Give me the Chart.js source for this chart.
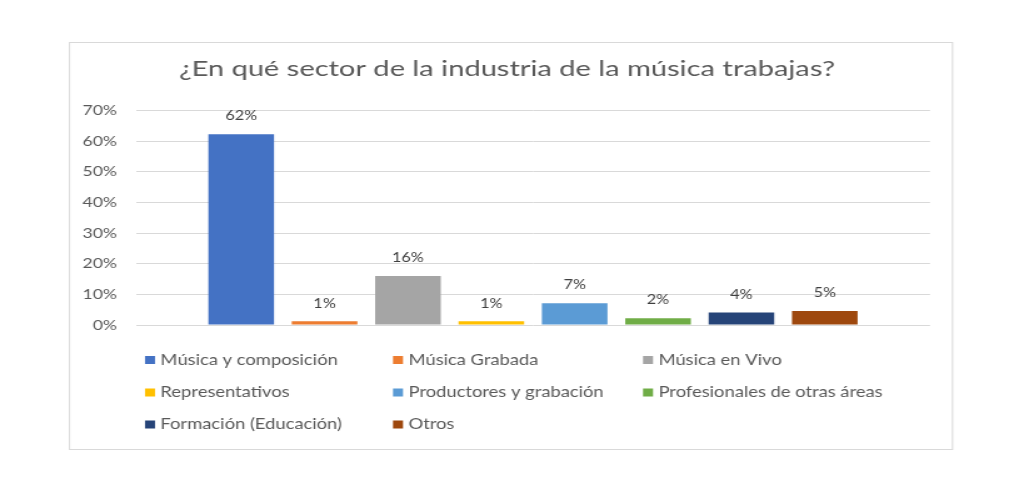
<!DOCTYPE html>
<html>
<head>
<meta charset="utf-8">
<script src="https://cdn.jsdelivr.net/npm/chart.js@4/dist/chart.umd.min.js"></script>
<style>
  html, body { margin: 0; padding: 0; background: #ffffff; overflow: hidden; }
  #wrap { position: absolute; left: 0; top: 0; width: 811px; height: 493px; transform: scaleX(1.25031); transform-origin: 0 0; }
</style>
</head>
<body>
<div id="wrap"><canvas id="c"></canvas></div>
<script>
// ---- data ----
const chartTitle = '¿En qué sector de la industria de la música trabajas?';
const categories = [''];
const seriesNames = [
  'Música y composición',
  'Música Grabada',
  'Música en Vivo',
  'Representativos',
  'Productores y grabación',
  'Profesionales de otras áreas',
  'Formación (Educación)',
  'Otros'
];
const seriesValues = [62.3, 1.2, 16.0, 1.2, 7.1, 2.2, 4.1, 4.6];
const seriesColors = ['#4472C4', '#ED7D31', '#A5A5A5', '#FFC000', '#5B9BD5', '#70AD47', '#264478', '#9E480E'];
const yTickValues = [0, 10, 20, 30, 40, 50, 60, 70];

// ---- layout (horizontal coords are divided by stretch K) ----
const K = 1014 / 811;
const X = v => v / K;
const FONT = 'Lato, "Open Sans", sans-serif';
const TEXT = '#595959';

const frame = {
  id: 'frame',
  beforeDraw(chart) {
    const ctx = chart.ctx;
    ctx.save();
    ctx.fillStyle = '#ffffff';
    ctx.fillRect(0, 0, chart.width, chart.height);
    ctx.strokeStyle = '#d9d9d9';
    ctx.lineWidth = 1;
    ctx.strokeRect(X(69) + 0.4, 42.5, X(952) - X(69), 407);
    ctx.restore();
  }
};

const titleText = {
  id: 'titleText',
  afterDraw(chart) {
    const ctx = chart.ctx;
    ctx.save();
    ctx.font = '20.5px ' + FONT;
    ctx.fillStyle = TEXT;
    ctx.textAlign = 'center';
    ctx.textBaseline = 'alphabetic';
    const w = ctx.measureText(chartTitle).width;
    const sx = X(656) / w;
    ctx.translate(X(507), 76);
    ctx.scale(sx, 1);
    ctx.fillText(chartTitle, 0, 0);
    ctx.restore();
  }
};

const valueLabels = {
  id: 'valueLabels',
  afterDatasetsDraw(chart) {
    const ctx = chart.ctx;
    ctx.save();
    ctx.font = '13px ' + FONT;
    ctx.fillStyle = '#404040';
    ctx.textAlign = 'center';
    ctx.textBaseline = 'middle';
    chart.data.datasets.forEach((ds, i) => {
      const meta = chart.getDatasetMeta(i);
      meta.data.forEach((bar, j) => {
        ctx.fillText(Math.round(ds.data[j]) + '%', bar.x, bar.y - 18);
      });
    });
    ctx.restore();
  }
};

const gridLegend = {
  id: 'gridLegend',
  afterDraw(chart) {
    const ctx = chart.ctx;
    const cols = [X(145), X(393), X(643)];
    const rows = [360, 392.5, 424.5];
    ctx.save();
    ctx.font = '14.7px ' + FONT;
    ctx.textAlign = 'left';
    ctx.textBaseline = 'middle';
    chart.data.datasets.forEach((ds, i) => {
      const cx = cols[i % 3];
      const cy = rows[Math.floor(i / 3)];
      ctx.fillStyle = ds.backgroundColor;
      ctx.fillRect(cx, cy - 4, 8, 8);
      ctx.fillStyle = TEXT;
      ctx.fillText(ds.label, cx + 12.4, cy);
    });
    ctx.restore();
  }
};

const ctx = document.getElementById('c');
new Chart(ctx, {
  type: 'bar',
  data: {
    labels: categories,
    datasets: seriesNames.map((name, i) => ({
      label: name,
      data: [seriesValues[i]],
      backgroundColor: seriesColors[i],
      borderWidth: 0,
      categoryPercentage: 0.84,
      barPercentage: 0.787
    }))
  },
  options: {
    responsive: true,
    maintainAspectRatio: false,
    animation: false,
    devicePixelRatio: 1,
    layout: { padding: { left: X(69), right: X(1014) - X(930), top: 110.7, bottom: 168 } },
    plugins: {
      legend: { display: false },
      tooltip: { enabled: false },
      title: { display: false }
    },
    scales: {
      x: { display: false },
      y: {
        min: 0,
        max: 70,
        afterBuildTicks(s) { s.ticks = yTickValues.map(v => ({ value: v })); },
        afterFit(s) { s.width = X(136) - X(69); },
        grid: { color: '#d9d9d9', lineWidth: 1, drawTicks: false },
        border: { display: false },
        ticks: {
          padding: X(136) - X(117),
          color: TEXT,
          font: { family: FONT, size: 14 },
          callback: v => v + '%'
        }
      }
    }
  },
  plugins: [frame, titleText, valueLabels, gridLegend]
});
</script>
</body>
</html>
